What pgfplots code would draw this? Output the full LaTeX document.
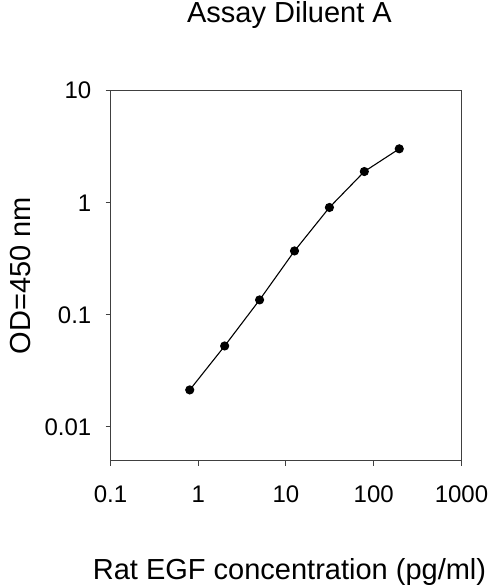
\documentclass[border=0pt]{standalone}
\usepackage{fontspec}
\setmainfont{Liberation Sans}
\usepackage{pgfplots}
\pgfplotsset{compat=1.18}

\begin{document}
\begin{tikzpicture}
	\begin{axis}[
		xmode=log, ymode=log,
		scale only axis,
		width=351bp, height=370bp,
		xmin=0.1, xmax=1000,
		ymin=0.005, ymax=10,
		xtick={0.1,1,10,100,1000},
		xticklabels={0.1,1,10,100,1000},
		ytick={0.01,0.1,1,10},
		yticklabels={0.01,0.1,1,10},
		xminorticks=false, yminorticks=false,
		tick align=outside,
		tick pos=left,
		major tick length=5bp,
		axis line style={draw=black!75, line width=1.3bp},
		every tick/.style={draw=black!75, line width=1bp},
		tick label style={font=\fontsize{24bp}{28bp}\selectfont, inner sep=0pt},
		xticklabel style={anchor=north, yshift=-20bp},
		yticklabel style={anchor=east, xshift=-14bp},
		title={Assay Diluent A},
		title style={font=\fontsize{29bp}{34bp}\selectfont, at={(axis description cs:0.51,1.1668)}, anchor=base, inner sep=0pt},
		xlabel={Rat EGF concentration (pg/ml)},
		xlabel style={font=\fontsize{29bp}{34bp}\selectfont, at={(axis description cs:0.51,-0.3224)}, anchor=base, inner sep=0pt},
		ylabel={OD=450 nm},
		ylabel style={font=\fontsize{29bp}{34bp}\selectfont, at={(axis description cs:-0.229,0.5)}, anchor=base, inner sep=0pt},
	]
	\addplot[black, line width=1.1bp, mark=*, mark size=4bp] coordinates {
(0.8, 0.0214)
(2, 0.0528)
(5, 0.136)
(12.5, 0.372)
(31.25, 0.908)
(78.125, 1.90)
(195.3125, 3.03)
	};
	\end{axis}
	\pgfresetboundingbox
	\path[use as bounding box] (-110.5bp,-124.3bp) rectangle (389.5bp,460.7bp);
\end{tikzpicture}
\end{document}
